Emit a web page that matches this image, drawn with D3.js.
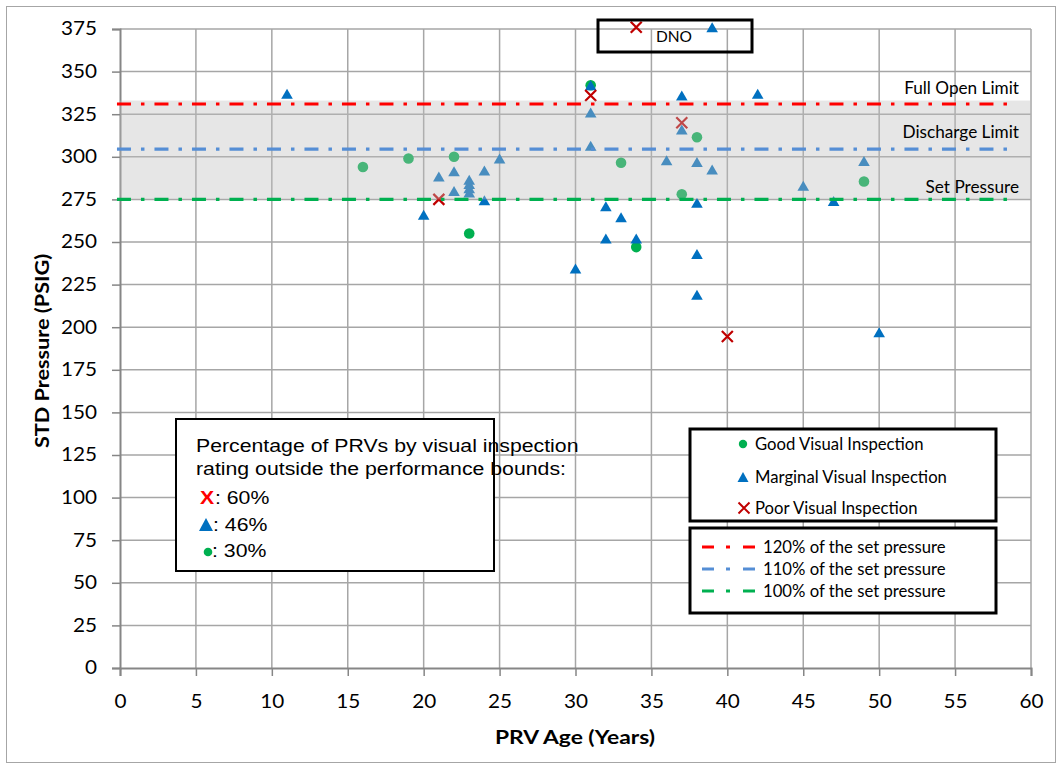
<!DOCTYPE html>
<html lang="en">
<head>
<meta charset="UTF-8"/>
<title>PRV Age vs STD Pressure</title>
<script src="https://d3js.org/d3.v7.min.js"></script>
<style>
    body { margin: 0; background: #ffffff; }
    svg { display: block; }
    .lbl { font-family: Lato, "Open Sans", sans-serif; fill: #000; }
    .arial { font-family: "Liberation Sans", Arial, sans-serif; fill: #000; }
</style>
</head>
<body>
<script>
    // data
    var goodAge = [16, 19, 22, 23, 31, 33, 34, 37, 38, 49];
    var goodPsi = [294, 299, 300, 255, 342, 296.5, 247, 278, 311.5, 285.5];

    var marginalAge = [11, 20, 21, 22, 22, 23, 23, 23, 23, 24, 24, 25, 30, 31, 31, 31, 32, 32, 33, 34,
                       36, 37, 37, 38, 38, 38, 38, 39, 39, 42, 45, 47, 49, 50];
    var marginalPsi = [337, 266, 288.5, 291.5, 280, 286.5, 284, 281.5, 279, 292, 274.5, 299, 234.5, 342, 326, 306.5, 271, 252, 264.5, 252,
                       298, 336, 316, 297, 273, 243, 219, 376, 292.5, 337, 283, 274, 297.5, 197];

    var poorAge = [21, 31, 34, 37, 40];
    var poorPsi = [275, 336, 376, 320, 194.5];

    var limitLabels = ["Full Open Limit", "Discharge Limit", "Set Pressure"];
    var limitLegend = ["120% of the set pressure", "110% of the set pressure", "100% of the set pressure"];
    var limitValues = [331, 304.5, 275];
    var limitColors = ["#ff0000", "#558ed5", "#00b050"];
    var bandRange = [275, 333];

    var seriesNames = ["Good Visual Inspection", "Marginal Visual Inspection", "Poor Visual Inspection"];
    var noteLines = ["Percentage of PRVs by visual inspection", "rating outside the performance bounds:"];
    var notePct = [": 60%", ": 46%", ": 30%"];

    var w = 1061, h = 768;
    var pLeft = 120, pRight = 1031, pTop = 29, pBottom = 668;

    var green = "#00b050", blue = "#0070c0", red = "#c00000";

    var xScale = d3.scaleLinear().domain([0, 60]).range([pLeft, pRight]);
    var yScale = d3.scaleLinear().domain([0, 375]).range([pBottom, pTop]);

    // the reference text is a bit wider than the fonts we have, so stretch it sideways
    function stretch(sel, sx) {
        sel.attr("transform", function() {
            var x = +this.getAttribute("x") || 0;
            return "translate(" + x + ",0) scale(" + sx + ",1) translate(" + (-x) + ",0)";
        });
    }

    var svg = d3.select("body").append("svg")
        .attr("width", w)
        .attr("height", h);

    // outer frame
    svg.append("rect")
        .attr("x", 6.5).attr("y", 6.5)
        .attr("width", 1049).attr("height", 756)
        .attr("fill", "none")
        .attr("stroke", "#a6a6a6");

    // grid
    var grid = svg.append("g");
    grid.selectAll("line.h")
        .data(d3.range(25, 376, 25))
        .enter().append("line")
        .attr("x1", pLeft).attr("x2", pRight)
        .attr("y1", function(d) { return yScale(d); })
        .attr("y2", function(d) { return yScale(d); })
        .attr("stroke", "#a6a6a6").attr("stroke-width", 1.5);
    grid.selectAll("line.v")
        .data(d3.range(5, 61, 5))
        .enter().append("line")
        .attr("y1", pTop).attr("y2", pBottom)
        .attr("x1", function(d) { return xScale(d); })
        .attr("x2", function(d) { return xScale(d); })
        .attr("stroke", "#a6a6a6").attr("stroke-width", 1.5);

    // axes
    var xAxis = d3.axisBottom(xScale).tickValues(d3.range(0, 61, 5)).tickSize(8).tickPadding(19);
    var yAxis = d3.axisLeft(yScale).tickValues(d3.range(0, 376, 25)).tickSize(8).tickPadding(15);

    var gx = svg.append("g").attr("transform", "translate(0," + pBottom + ")").call(xAxis);
    var gy = svg.append("g").attr("transform", "translate(" + pLeft + ",0)").call(yAxis);
    [gx, gy].forEach(function(g) {
        g.select(".domain").attr("stroke", "#868686").attr("stroke-width", 2);
        g.selectAll(".tick line").attr("stroke", "#868686").attr("stroke-width", 1.5);
        g.selectAll(".tick text")
            .attr("font-family", "Lato, 'Open Sans', sans-serif")
            .attr("font-size", 18.5)
            .attr("fill", "#000")
            .call(stretch, 1.12);
    });

    // markers (under the band)
    var marks = svg.append("g");

    marks.selectAll("circle.good")
        .data(goodAge)
        .enter().append("circle")
        .attr("cx", function(d) { return xScale(d); })
        .attr("cy", function(d, i) { return yScale(goodPsi[i]); })
        .attr("r", 5.3)
        .attr("fill", green);

    marks.selectAll("path.tri")
        .data(marginalAge)
        .enter().append("path")
        .attr("d", function(d, i) {
            var x = xScale(d), y = yScale(marginalPsi[i]);
            return "M" + (x - 5.8) + "," + (y + 5) + "L" + x + "," + (y - 5) + "L" + (x + 5.8) + "," + (y + 5) + "Z";
        })
        .attr("fill", blue);

    marks.selectAll("path.x")
        .data(poorAge)
        .enter().append("path")
        .attr("d", function(d, i) {
            var x = xScale(d), y = yScale(poorPsi[i]), s = 5.5;
            return "M" + (x - s) + "," + (y - s) + "L" + (x + s) + "," + (y + s) +
                   "M" + (x - s) + "," + (y + s) + "L" + (x + s) + "," + (y - s);
        })
        .attr("stroke", red)
        .attr("stroke-width", 2.2)
        .attr("fill", "none");

    // performance band drawn over the markers
    svg.append("rect")
        .attr("x", pLeft).attr("width", pRight - pLeft)
        .attr("y", yScale(bandRange[1]))
        .attr("height", yScale(bandRange[0]) - yScale(bandRange[1]))
        .attr("fill", "rgb(190,190,190)")
        .attr("fill-opacity", 0.38);

    // limit lines
    svg.selectAll("line.limit")
        .data(limitValues)
        .enter().append("line")
        .attr("x1", xScale(-0.2)).attr("x2", xScale(58.6))
        .attr("y1", function(d) { return yScale(d); })
        .attr("y2", function(d) { return yScale(d); })
        .attr("stroke", function(d, i) { return limitColors[i]; })
        .attr("stroke-width", 3.2)
        .attr("stroke-dasharray", "14,10,3.5,10");

    svg.selectAll("text.limit")
        .data(limitLabels)
        .enter().append("text")
        .attr("class", "lbl")
        .attr("x", 1019)
        .attr("y", function(d, i) { return [94, 138, 193][i]; })
        .attr("text-anchor", "end")
        .attr("font-size", 17.2)
        .text(function(d) { return d; });

    // DNO box
    svg.append("rect")
        .attr("x", 598).attr("y", 20).attr("width", 154).attr("height", 32)
        .attr("fill", "none").attr("stroke", "#000").attr("stroke-width", 3);
    svg.append("text").attr("class", "lbl")
        .attr("x", 674).attr("y", 42).attr("text-anchor", "middle")
        .attr("font-size", 15.5).text("DNO");

    // note box
    svg.append("rect")
        .attr("x", 176).attr("y", 419).attr("width", 318).attr("height", 152)
        .attr("fill", "#fff").attr("stroke", "#000").attr("stroke-width", 2);
    svg.selectAll("text.note")
        .data(noteLines)
        .enter().append("text")
        .attr("class", "arial")
        .attr("x", 196)
        .attr("y", function(d, i) { return 452 + i * 23.5; })
        .attr("font-size", 18.5)
        .text(function(d) { return d; })
        .call(stretch, 1.15);
    svg.append("text").attr("class", "arial")
        .attr("x", 200).attr("y", 504).attr("font-size", 18.5)
        .attr("font-weight", "bold").style("fill", "#ff0000").text("X")
        .call(stretch, 1.15);
    svg.append("path")
        .attr("d", "M199,531L206,518L213,531Z").attr("fill", blue);
    svg.append("circle").attr("cx", 208).attr("cy", 552).attr("r", 4.3).attr("fill", green);
    svg.selectAll("text.pct")
        .data(notePct)
        .enter().append("text")
        .attr("class", "arial")
        .attr("x", function(d, i) { return [215, 213, 212][i]; })
        .attr("y", function(d, i) { return [504, 531, 557][i]; })
        .attr("font-size", 18.5)
        .text(function(d) { return d; })
        .call(stretch, 1.15);

    // series legend
    svg.append("rect")
        .attr("x", 690).attr("y", 429).attr("width", 306).attr("height", 92)
        .attr("fill", "#fff").attr("stroke", "#000").attr("stroke-width", 3);
    var legY = [444, 477, 508];
    svg.append("circle").attr("cx", 743).attr("cy", legY[0]).attr("r", 4.2).attr("fill", green);
    svg.append("path").attr("d", "M737.5," + (legY[1] + 5) + "L743," + (legY[1] - 5) + "L748.5," + (legY[1] + 5) + "Z").attr("fill", blue);
    svg.append("path")
        .attr("d", "M738.5," + (legY[2] - 5.5) + "L749.5," + (legY[2] + 5.5) + "M738.5," + (legY[2] + 5.5) + "L749.5," + (legY[2] - 5.5))
        .attr("stroke", red).attr("stroke-width", 2);
    svg.selectAll("text.series")
        .data(seriesNames)
        .enter().append("text")
        .attr("class", "lbl")
        .attr("x", 755)
        .attr("y", function(d, i) { return legY[i] + 6; })
        .attr("font-size", 16.7)
        .text(function(d) { return d; });

    // line legend
    svg.append("rect")
        .attr("x", 690).attr("y", 528).attr("width", 306).attr("height", 85)
        .attr("fill", "#fff").attr("stroke", "#000").attr("stroke-width", 3);
    var lineY = [547, 569, 591];
    svg.selectAll("line.leg")
        .data(limitValues)
        .enter().append("line")
        .attr("x1", 702).attr("x2", 755)
        .attr("y1", function(d, i) { return lineY[i]; })
        .attr("y2", function(d, i) { return lineY[i]; })
        .attr("stroke", function(d, i) { return limitColors[i]; })
        .attr("stroke-width", 3)
        .attr("stroke-dasharray", "12,12,4,13");
    svg.selectAll("text.legline")
        .data(limitLegend)
        .enter().append("text")
        .attr("class", "lbl")
        .attr("x", 763)
        .attr("y", function(d, i) { return lineY[i] + 6; })
        .attr("font-size", 16.7)
        .text(function(d) { return d; });

    // axis titles
    svg.append("text").attr("class", "lbl")
        .attr("x", 575).attr("y", 744)
        .attr("text-anchor", "middle")
        .attr("font-size", 19.5).attr("font-weight", "bold")
        .text("PRV Age (Years)")
        .call(stretch, 1.17);
    svg.append("g")
        .attr("transform", "translate(49,351) rotate(-90)")
        .append("text").attr("class", "lbl")
        .attr("x", 0).attr("y", 0)
        .attr("text-anchor", "middle")
        .attr("font-size", 19.5).attr("font-weight", "bold")
        .text("STD Pressure (PSIG)")
        .call(stretch, 1.11);
</script>
</body>
</html>
